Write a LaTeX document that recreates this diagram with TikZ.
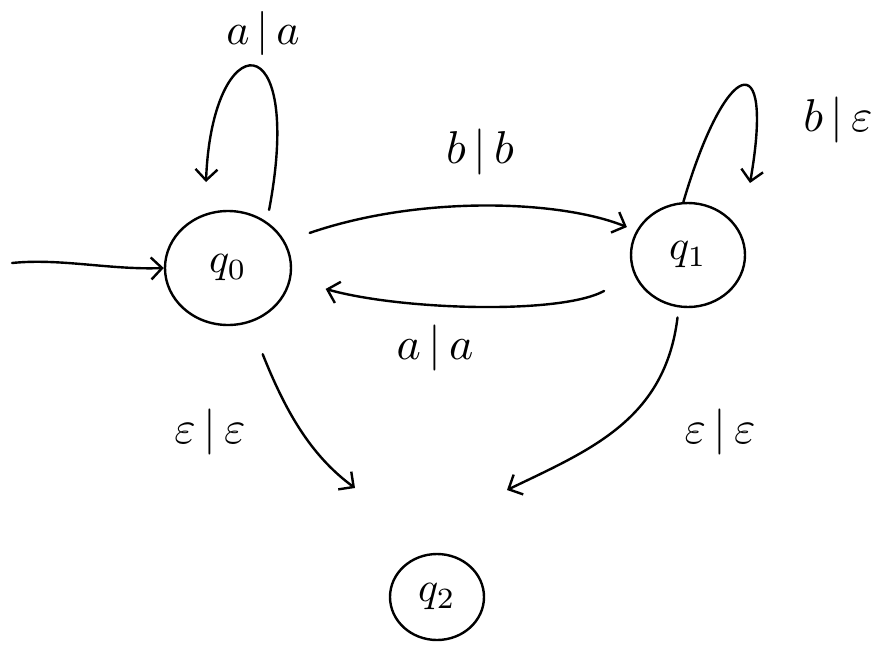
\documentclass[tikz,border=0pt]{standalone}
\usepackage{graphicx}
\usetikzlibrary{arrows.meta,shapes.geometric,calc}
\newcommand{\hwlabel}[2]{\scalebox{#1}{$#2$}}
\begin{document}
\begin{tikzpicture}[x=1pt,y=-1pt,
  every path/.style={line width=2.4pt,line cap=round,line join=round},
  state/.style={draw,ellipse,inner sep=0pt},
  lbl/.style={inner sep=0pt},
  arr/.style={-{Straight Barb[length=11pt,width=22pt,line width=2.4pt]}}]
\useasboundingbox (0,0) rectangle (886,659);
\node[state,minimum width=126pt,minimum height=114pt] (q0) at (228,268) {\hwlabel{4.2}{q_0}};
\node[state,minimum width=114pt,minimum height=104pt] (q1) at (688,255) {\hwlabel{4.2}{q_1}};
\node[state,minimum width=94pt,minimum height=86pt] (q2) at (437,597) {\hwlabel{4.2}{q_2}};
\coordinate (start) at (12,263);
\coordinate (loop0) at (206,182);
\coordinate (loop1) at (750,183);
\coordinate (e0) at (355,488);
\coordinate (e1) at (507,490);
% initial
\draw[arr] (start) .. controls (60,258) and (110,270) .. (q0.west);
% q0 self loop
\draw[arr,shorten <=12pt] (q0.50) .. controls (305,20) and (212,25) .. (loop0);
\node[lbl] (l1) at (263,33) {\hwlabel{4.4}{a\,|\,a}};
% q0 -> q1
\draw[arr,shorten <=26pt,shorten >=10pt] (q0.25) .. controls (420,195) and (560,200) .. (q1.155);
\node[lbl] (l2) at (480,152) {\hwlabel{4.6}{b\,|\,b}};
% q1 -> q0
\draw[arr,shorten <=34pt,shorten >=36pt] (q1.200) .. controls (560,315) and (400,310) .. (q0.-10);
\node[lbl] (l3) at (435,348) {\hwlabel{4.6}{a\,|\,a}};
% q1 self loop
\draw[arr] (q1.95) .. controls (725,60) and (775,40) .. (loop1);
\node[lbl] (l4) at (838,120) {\hwlabel{4.6}{b\,|\,\varepsilon}};
% q0 -> towards q2
\draw[arr,shorten <=34pt] (q0.-68) .. controls (285,410) and (310,455) .. (e0);
\node[lbl] (l5) at (210,432) {\hwlabel{4.6}{\varepsilon\,|\,\varepsilon}};
% q1 -> towards q2
\draw[arr,shorten <=10pt] (q1.-100) .. controls (665,420) and (590,450) .. (e1);
\node[lbl] (l6) at (720,432) {\hwlabel{4.6}{\varepsilon\,|\,\varepsilon}};
\end{tikzpicture}
\end{document}
